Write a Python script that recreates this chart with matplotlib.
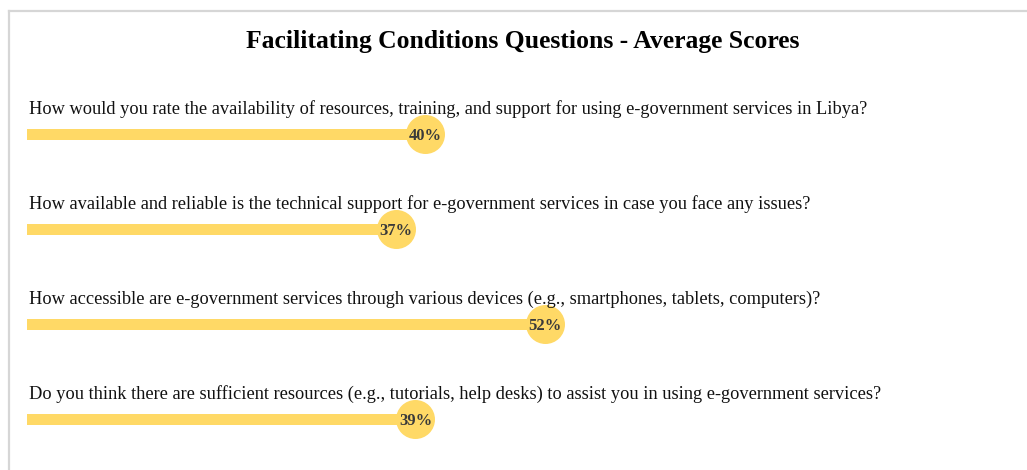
import matplotlib
matplotlib.use("Agg")
import matplotlib.pyplot as plt
from matplotlib.lines import Line2D

questions = [
    "How would you rate the availability of resources, training, and support for using e-government services in Libya?",
    "How available and reliable is the technical support for e-government services in case you face any issues?",
    "How accessible are e-government services through various devices (e.g., smartphones, tablets, computers)?",
    "Do you think there are sufficient resources (e.g., tutorials, help desks) to assist you in using e-government services?",
]
scores = [40, 37, 52, 39]
title = "Facilitating Conditions Questions - Average Scores"

W, H, DPI = 1027, 470, 100
BAR = "#FFD966"
SERIF = ["Liberation Serif", "DejaVu Serif"]

fig = plt.figure(figsize=(W / DPI, H / DPI), dpi=DPI)
fig.patch.set_facecolor("white")

# panel frame (top and left edges)
fig.add_artist(Line2D([8.5 / W, 1.0], [1 - 10.5 / H, 1 - 10.5 / H], transform=fig.transFigure,
                      color="#d6d6d6", lw=1.6))
fig.add_artist(Line2D([8.5 / W, 8.5 / W], [1 - 10.5 / H, 0.0], transform=fig.transFigure,
                      color="#d6d6d6", lw=1.6))

x0, x1 = 27, 1023
row0, step = 134, 95
ax = fig.add_axes([x0 / W, 0, (x1 - x0) / W, 1])
ax.set_xlim(0, 100)
ax.set_ylim((H - row0) / step, -row0 / step)
ax.axis("off")

ypos = list(range(len(scores)))
radius_pt = 19.5 * 72 / DPI
ax.barh(ypos, scores, height=11 / step, color=BAR, left=0, zorder=1)
ax.scatter(scores, ypos, s=(2 * radius_pt) ** 2, color=BAR, zorder=2, linewidths=0)

qx = 2 / ((x1 - x0) / 100)
for y, q, v in zip(ypos, questions, scores):
    ax.text(qx, y - 24.5 / step, q, ha="left", va="center", family=SERIF,
            fontsize=13.23, color="#111111")
    ax.text(v, y + 1.5 / step, f"{v}%", ha="center", va="center", family=SERIF,
            fontsize=16.5 * 72 / DPI, fontweight="bold", color="#3a3a3a", zorder=3)

fig.text(523 / W, 1 - 41.5 / H, title, ha="center", va="center", family=SERIF,
         fontsize=25.6 * 72 / DPI, fontweight="bold", color="black")

fig.savefig("out.png", dpi=DPI, facecolor="white")
